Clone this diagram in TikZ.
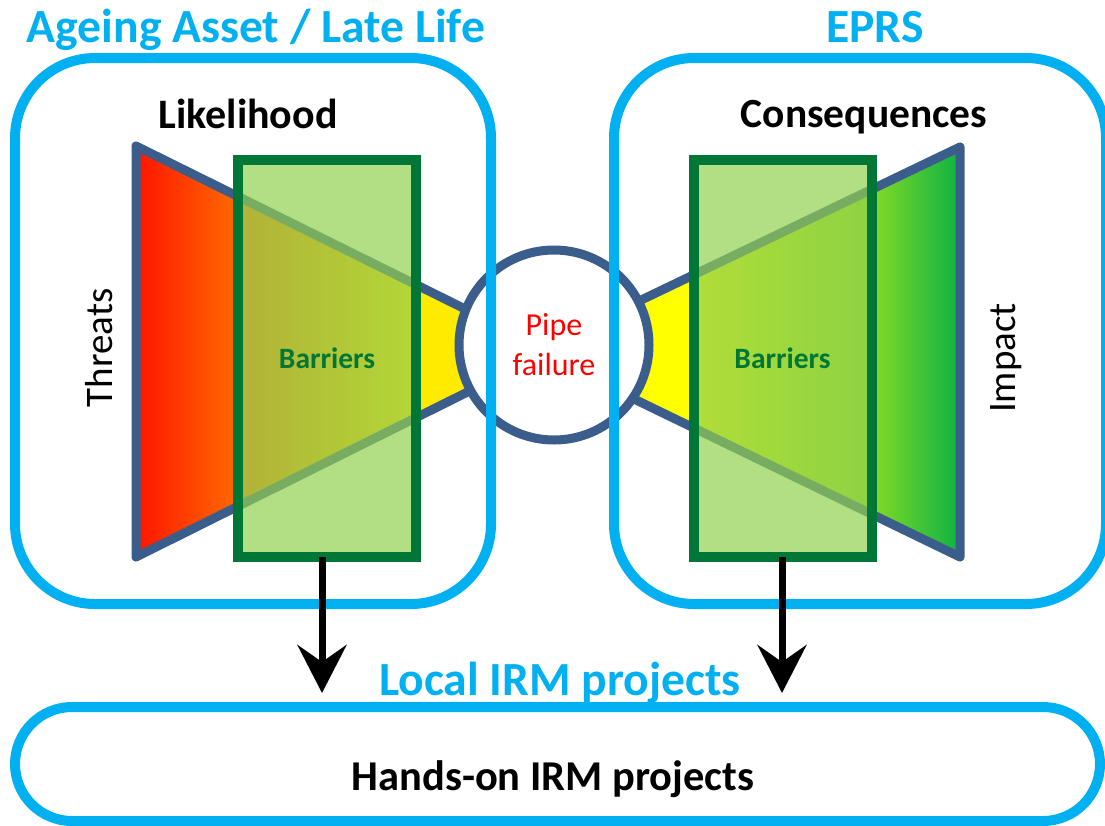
\documentclass[tikz,border=0pt]{standalone}
\usepackage{fontspec}
\setmainfont{Carlito}
\usetikzlibrary{arrows.meta, positioning}

\definecolor{irmblue}{RGB}{0,176,240}
\definecolor{tieblue}{RGB}{59,93,140}
\definecolor{bargreen}{RGB}{0,119,54}
\definecolor{barfill}{RGB}{146,208,80}

\pgfdeclarehorizontalshading{threatfill}{100bp}{rgb(0bp)=(1,0.08,0); rgb(25bp)=(1,0.08,0); rgb(36.6bp)=(1,0.4,0); rgb(59bp)=(1,0.92,0); rgb(100bp)=(1,0.92,0)}
\pgfdeclarehorizontalshading{impactfill}{100bp}{rgb(0bp)=(1,1,0); rgb(43bp)=(1,1,0); rgb(65bp)=(0.5,0.85,0.15); rgb(75bp)=(0.05,0.7,0.27); rgb(100bp)=(0.05,0.7,0.27)}

\tikzset{
  panel/.style={draw=irmblue, line width=10pt, rounded corners=80pt},
  tie/.style={draw=tieblue, line width=9pt, line join=round},
  barrier/.style={draw=bargreen, line width=10pt, fill=barfill, fill opacity=0.7, text opacity=1,
    text=bargreen, minimum width=178pt, minimum height=397pt, outer sep=0pt, inner sep=0pt,
    font=\fontsize{29.5}{35}\selectfont\bfseries},
  title/.style={text=irmblue, anchor=base, font=\fontsize{47.6}{57}\selectfont\bfseries},
  heading/.style={anchor=base, font=\fontsize{42}{50}\selectfont\bfseries},
  side/.style={anchor=base, rotate=90, font=\fontsize{39}{47}\selectfont},
  down/.style={-{Stealth[length=48pt, width=49pt, inset=17pt]}, line width=7pt}
}

\begin{document}
\begin{tikzpicture}[x=1pt, y=-1pt]
  \useasboundingbox (0,0) rectangle (1105,825);

  \shadedraw[tie, shading=threatfill] (136,146) -- (550,351) -- (136,557) -- cycle;
  \shadedraw[tie, shading=impactfill] (960,147) -- (535,351) -- (960,557) -- cycle;

  \node[barrier] (lbar) at (327,358.5) {Barriers};
  \node[barrier] (rbar) at (782.5,358.5) {Barriers};

  \node[circle, draw=tieblue, line width=9pt, fill=white, minimum size=190pt, inner sep=0pt,
    align=center, text=red, font=\fontsize{32}{40}\selectfont] (pipe) at (554,345) {Pipe\\failure};

  \draw[panel] (15,58) rectangle (491,604);
  \draw[panel] (614,58) rectangle (1106,604);
  \draw[panel, rounded corners=57pt] (15,707) rectangle (1100,821);

  \coordinate (ltip) at (322,693);
  \coordinate (rtip) at (782,693);
  \draw[down] (lbar.south -| ltip) -- (ltip);
  \draw[down] (rbar.south -| rtip) -- (rtip);

  \node[title] (ageing) at (256,42) {Ageing Asset / Late Life};
  \node[title] (eprs) at (875,42) {EPRS};
  \node[heading] (likely) at (248,128) {Likelihood};
  \node[heading, font=\fontsize{41.5}{50}\selectfont\bfseries] (conseq) at (864,127) {Consequences};
  \node[side] (threats) at (112,348) {Threats};
  \node[side] (impact) at (1015,358) {Impact};
  \node[title] (local) at (560,695) {Local IRM projects};
  \node[heading, font=\fontsize{42.5}{50}\selectfont\bfseries] (handson) at (553,790) {Hands-on IRM projects};
\end{tikzpicture}
\end{document}
